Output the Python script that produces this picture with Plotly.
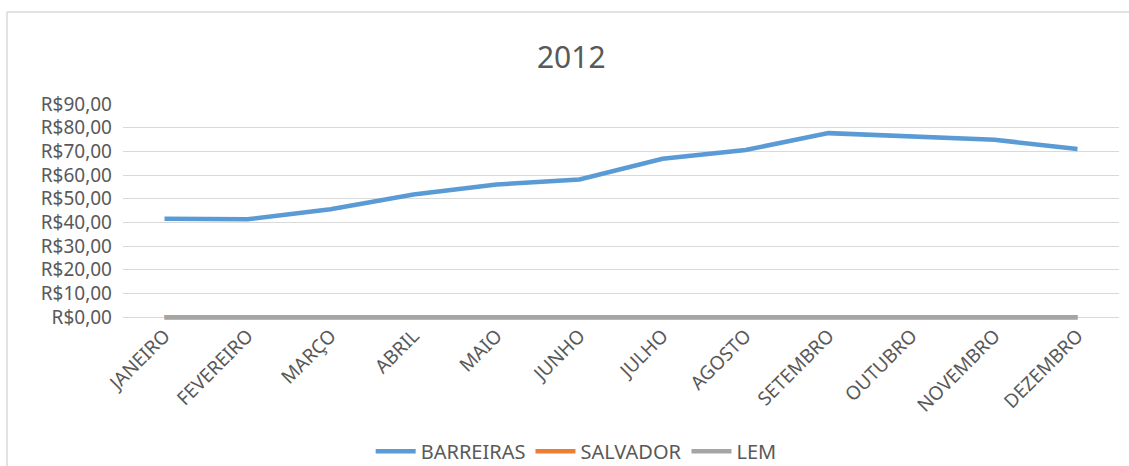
import plotly.graph_objects as go

meses = ["JANEIRO", "FEVEREIRO", "MARÇO", "ABRIL", "MAIO", "JUNHO",
         "JULHO", "AGOSTO", "SETEMBRO", "OUTUBRO", "NOVEMBRO", "DEZEMBRO"]
barreiras = [41.5, 41.3, 45.6, 51.8, 56.0, 58.1, 66.9, 70.6, 77.7, 76.2, 74.9, 71.0]
salvador = [0, 0, 0, 0, 0, 0, 0, 0, 0, 0, 0, 0]
lem = [0, 0, 0, 0, 0, 0, 0, 0, 0, 0, 0, 0]
y_ticks = [0, 10, 20, 30, 40, 50, 60, 70, 80, 90]
y_labels = ["R$%d,00" % v for v in y_ticks]

FONT = "Noto Sans, Lato, sans-serif"
TXT = "#595959"

fig = go.Figure()
fig.add_trace(go.Scatter(x=meses, y=barreiras, name="BARREIRAS", mode="lines",
                         line=dict(color="#5B9BD5", width=4.5)))
fig.add_trace(go.Scatter(x=meses, y=salvador, name="SALVADOR", mode="lines",
                         line=dict(color="#ED7D31", width=4.5)))
fig.add_trace(go.Scatter(x=meses, y=lem, name="LEM", mode="lines",
                         line=dict(color="#A5A5A5", width=4.5)))

W, H = 1129, 466
Y_MIN, Y_MAX = -1.2, 90
unit = 213 / 90.0
L, R, T = 123, 10, 104
ph = (Y_MAX - Y_MIN) * unit
B = H - T - ph
pw = W - L - R

def px_x(p):
    return (p - L) / pw

def px_y(p):
    return (H - B - p) / ph

fig.update_layout(
    width=W, height=H,
    margin=dict(l=L, r=R, t=T, b=B, autoexpand=False),
    paper_bgcolor="white", plot_bgcolor="white",
    font=dict(family=FONT, color=TXT, size=19),
    title=dict(text="2012", x=0.506, xanchor="center", y=1 - 57 / H, yanchor="middle",
               font=dict(family=FONT, size=30, color=TXT)),
    xaxis=dict(type="category", range=[-0.5, 11.5], showgrid=False, zeroline=False,
               showline=False, ticks="", tickangle=-45, automargin=False,
               tickfont=dict(family=FONT, size=19, color=TXT)),
    yaxis=dict(range=[Y_MIN, Y_MAX], tickvals=y_ticks, ticktext=y_labels,
               showgrid=True, gridcolor="#d9d9d9", gridwidth=1,
               zeroline=False, showline=False, ticks="", automargin=False,
               ticklabelstandoff=10,
               tickfont=dict(family=FONT, size=19, color=TXT)),
    legend=dict(orientation="h", x=0.455, xanchor="center",
                y=px_y(451), yanchor="middle",
                font=dict(family=FONT, size=20, color=TXT),
                itemwidth=40, traceorder="normal"),
    showlegend=True,
    shapes=[
        dict(type="line", xref="paper", yref="paper",
             x0=px_x(7), x1=px_x(1135), y0=px_y(12), y1=px_y(12),
             line=dict(color="#d9d9d9", width=1.5)),
        dict(type="line", xref="paper", yref="paper",
             x0=px_x(7), x1=px_x(7), y0=px_y(12), y1=px_y(470),
             line=dict(color="#d9d9d9", width=1.5)),
    ],
)

fig.write_html("out.html")
